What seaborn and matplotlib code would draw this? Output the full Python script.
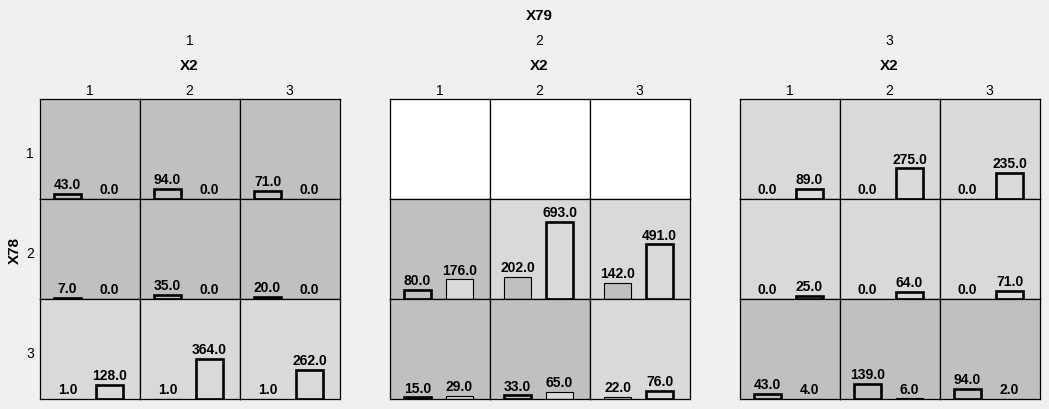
import pandas as pd
import matplotlib
matplotlib.use("Agg")
import matplotlib.pyplot as plt
import seaborn as sns

plt.rcParams['font.family'] = ['Liberation Sans', 'DejaVu Sans']

levels = [1, 2, 3]

# counts per [X79][X78][X2], first and second bar; None = empty cell
count_a = [
    [[43, 94, 71], [7, 35, 20], [1, 1, 1]],
    [[None, None, None], [80, 202, 142], [15, 33, 22]],
    [[0, 0, 0], [0, 0, 0], [43, 139, 94]],
]
count_b = [
    [[0, 0, 0], [0, 0, 0], [128, 364, 262]],
    [[None, None, None], [176, 693, 491], [29, 65, 76]],
    [[89, 275, 235], [25, 64, 71], [4, 6, 2]],
]
# which bar is the chosen one in each cell (0 or 1)
chosen = [
    [[0, 0, 0], [0, 0, 0], [1, 1, 1]],
    [[None, None, None], [0, 1, 1], [0, 0, 1]],
    [[1, 1, 1], [1, 1, 1], [0, 0, 0]],
]

rows = []
for i, g in enumerate(levels):
    for j, r in enumerate(levels):
        for k, c in enumerate(levels):
            if count_a[i][j][k] is None:
                continue
            rows.append({'X79': g, 'X78': r, 'X2': c, 'cls': 0, 'n': count_a[i][j][k]})
            rows.append({'X79': g, 'X78': r, 'X2': c, 'cls': 1, 'n': count_b[i][j][k]})
dati = pd.DataFrame(rows)

colori = {0: '#c0c0c0', 1: '#d9d9d9'}
W, H = 1049, 410
fig = plt.figure(figsize=(W / 100, H / 100), dpi=100, facecolor='#f0f0f0')

panel_left = [39.5, 389.5, 739.5]
cell = 100
top = 100

for i, g in enumerate(levels):
    for j, r in enumerate(levels):
        for k, c in enumerate(levels):
            x0 = panel_left[i] + k * cell
            y0 = top + j * cell
            ax = fig.add_axes([x0 / W, (H - y0 - cell) / H, cell / W, cell / H])
            sub = dati[(dati.X79 == g) & (dati.X78 == r) & (dati.X2 == c)]
            if len(sub) == 0:
                ax.set_facecolor('white')
            else:
                best = chosen[i][j][k]
                ax.set_facecolor(colori[best])
                sns.barplot(data=sub, x='cls', y='n', hue='cls', palette=colori,
                            width=0.62, legend=False, ax=ax)
                for p, v in zip(ax.patches, sub['n']):
                    p.set_edgecolor('black')
                    lw = 1.9 if int(p.get_x() + p.get_width() / 2 + 0.5) == best else 0.8
                    p.set_linewidth(lw if v > 0 else 0)
                for cont in ax.containers:
                    ax.bar_label(cont, fmt='%.1f', padding=2, fontsize=10, fontweight='bold')
            ax.set_xlim(-0.667, 1.714)
            ax.set_ylim(0, 900)
            ax.set_xticks([])
            ax.set_yticks([])
            ax.set_xlabel('')
            ax.set_ylabel('')
            for s in ax.spines.values():
                s.set_color('black')
                s.set_linewidth(0.9)
            if j == 0:
                fig.text((x0 + cell / 2) / W, 1 - 91 / H, str(c), ha='center', va='center', fontsize=10)
            if i == 0 and k == 0:
                fig.text(30 / W, 1 - (y0 + 54) / H, str(r), ha='center', va='center', fontsize=10)
    mid = panel_left[i] + 1.5 * cell
    fig.text(mid / W, 1 - 41 / H, str(g), ha='center', va='center', fontsize=10)
    fig.text(mid / W, 1 - 66 / H, 'X2', ha='center', va='center', fontsize=11, fontweight='bold')

fig.text((panel_left[1] + 1.5 * cell) / W, 1 - 16 / H, 'X79', ha='center', va='center',
         fontsize=11, fontweight='bold')
fig.text(15 / W, 1 - 250 / H, 'X78', ha='center', va='center', rotation=90,
         fontsize=11, fontweight='bold')

fig.savefig('out.png', dpi=100, facecolor=fig.get_facecolor())
